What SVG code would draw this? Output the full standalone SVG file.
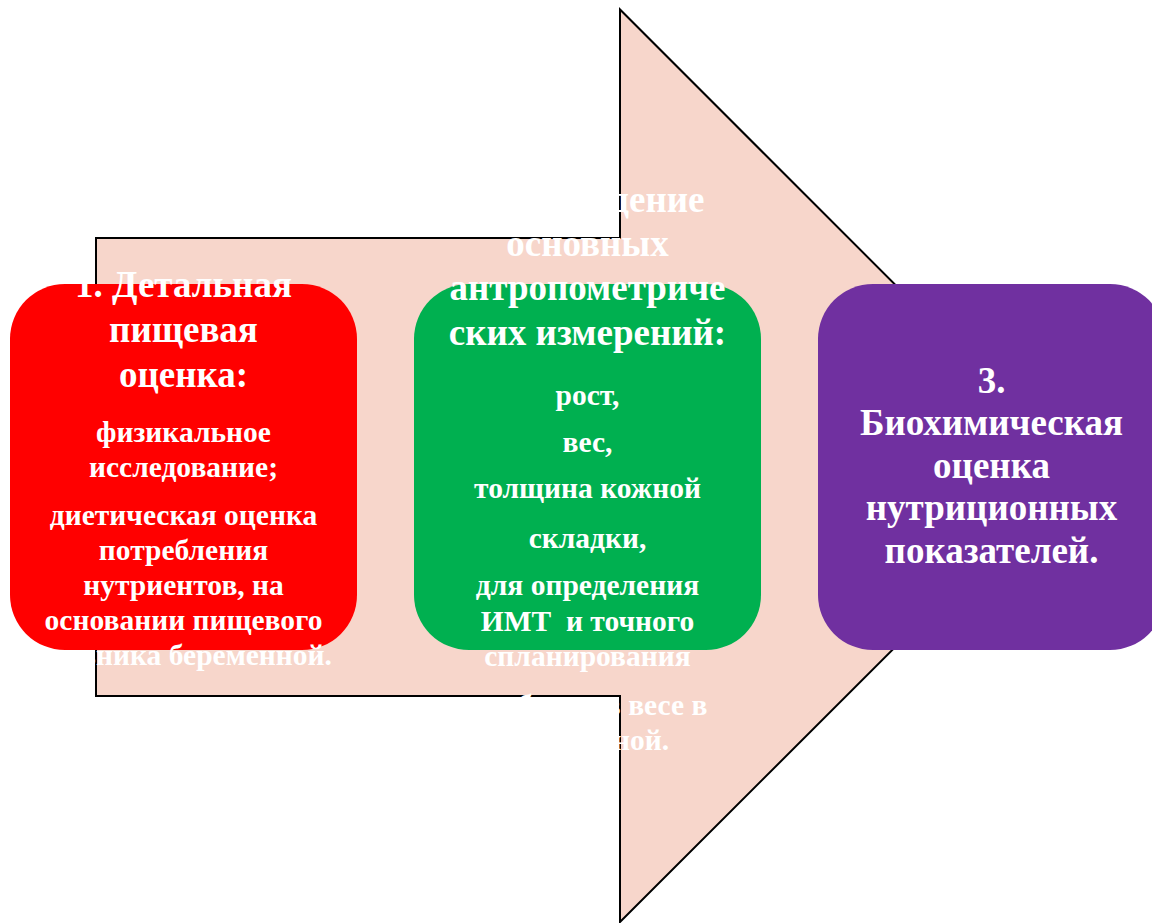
<svg xmlns="http://www.w3.org/2000/svg" width="1152" height="923" viewBox="0 0 1152 923">
<style>
.t{font-family:"Liberation Serif","Times New Roman",serif;font-weight:bold;fill:#FFFFFF;text-anchor:middle}
.h{font-size:37px}
.b{font-size:29.5px}
</style>
<rect width="1152" height="923" fill="#FFFFFF"/>
<g id="arrow">
<path d="M96,238 L620,238 L620,9.5 L1076.5,466 L620,922 L620,696 L96,696 Z" fill="#F7D6CB" stroke="#000000" stroke-width="2"/>
</g>
<g id="connectors"></g>
<g id="node1">
<rect x="10" y="284" width="347" height="366" rx="55" ry="55" fill="#FF0000"/>
<text class="t h" x="183.5" y="297">1. Детальная</text>
<text class="t h" x="183.5" y="342">пищевая</text>
<text class="t h" x="183.5" y="387">оценка:</text>
<text class="t b" x="183.5" y="442">физикальное</text>
<text class="t b" x="183.5" y="477">исследование;</text>
<text class="t b" x="183.5" y="525">диетическая оценка</text>
<text class="t b" x="183.5" y="560">потребления</text>
<text class="t b" x="183.5" y="595">нутриентов, на</text>
<text class="t b" x="183.5" y="630">основании пищевого</text>
<text class="t b" x="183.5" y="665">дневника беременной.</text>
</g>
<g id="node2">
<rect x="414" y="284" width="347" height="366" rx="55" ry="55" fill="#00B050"/>
<text class="t h" x="587.5" y="212">2. Проведение</text>
<text class="t h" x="587.5" y="256">основных</text>
<text class="t h" x="587.5" y="300">антропометриче</text>
<text class="t h" x="587.5" y="345">ских измерений:</text>
<text class="t b" x="587.5" y="405">рост,</text>
<text class="t b" x="587.5" y="452">вес,</text>
<text class="t b" x="587.5" y="498">толщина кожной</text>
<text class="t b" x="587.5" y="548">складки,</text>
<text class="t b" x="587.5" y="595">для определения</text>
<text class="t b" x="587.5" y="631" xml:space="preserve">ИМТ  и точного</text>
<text class="t b" x="587.5" y="666">спланирования</text>
<text class="t b" x="587.5" y="715">прибавки в весе в</text>
<text class="t b" x="587.5" y="750">беременной.</text>
</g>
<g id="node3">
<rect x="818" y="284" width="347" height="366" rx="55" ry="55" fill="#7030A0"/>
<text class="t h" x="991.5" y="393">3.</text>
<text class="t h" x="991.5" y="435">Биохимическая</text>
<text class="t h" x="991.5" y="478">оценка</text>
<text class="t h" x="991.5" y="520">нутриционных</text>
<text class="t h" x="991.5" y="563">показателей.</text>
</g>
</svg>
